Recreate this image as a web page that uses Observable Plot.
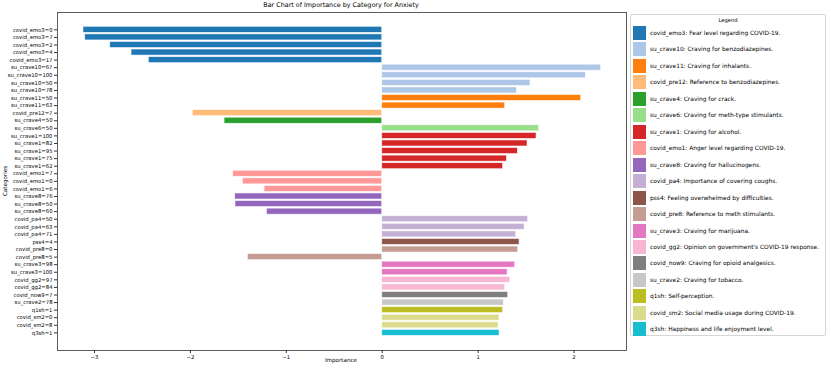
<!DOCTYPE html>
<html><head><meta charset="utf-8">
<script src="https://cdn.jsdelivr.net/npm/d3@7"></script>
<script src="https://cdn.jsdelivr.net/npm/@observablehq/plot@0.6"></script>
<style>
body{margin:0;background:#fff;font-family:"DejaVu Sans",sans-serif;}
#wrap{position:relative;width:831px;height:370px;overflow:hidden;}
#wrap svg{position:absolute;left:0;top:0;}
.abs{position:absolute;white-space:nowrap;color:#000;}
#title{left:341px;top:0.5px;transform:translateX(-50%);font-size:6.4px;}
#xlabel{left:341px;top:357px;transform:translateX(-50%);font-size:5.6px;}
#ylabel{left:5px;top:181px;transform:translate(-50%,-50%) rotate(-90deg);font-size:5.6px;}
#legend{left:630px;top:14px;width:196px;height:322px;border:1px solid #d6d6d6;border-radius:2px;box-sizing:border-box;background:#fff;}
.lt{position:absolute;left:0;width:100%;text-align:center;top:2px;font-size:5.2px;}
.sw{position:absolute;left:1.5px;width:13px;height:14px;}
.tx{position:absolute;left:19px;font-size:5.9px;transform:translateY(-50%);}
</style></head><body><div id="wrap"></div>
<script>
const categories = ["covid_emo3=0","covid_emo3=7","covid_emo3=2","covid_emo3=4","covid_emo3=17",
"su_crave10=67","su_crave10=100","su_crave10=50","su_crave10=78","su_crave11=50","su_crave11=63",
"covid_pre12=7","su_crave4=50","su_crave6=50","su_crave1=100","su_crave1=82","su_crave1=95","su_crave1=75","su_crave1=62",
"covid_emo1=7","covid_emo1=0","covid_emo1=6","su_crave8=76","su_crave8=50","su_crave8=60",
"covid_pa4=50","covid_pa4=63","covid_pa4=71","pss4=4","covid_pre8=0","covid_pre8=5",
"su_crave3=98","su_crave3=100","covid_gg2=97","covid_gg2=84","covid_now9=7","su_crave2=78",
"q1sh=1","covid_sm2=0","covid_sm2=8","q3sh=1"];
const values = [-3.115,-3.097,-2.836,-2.614,-2.434,
2.283,2.123,1.546,1.404,2.075,1.282,
-1.975,-1.644,1.637,1.609,1.515,1.414,1.300,1.261,
-1.554,-1.453,-1.227,-1.533,-1.530,-1.203,
1.522,1.484,1.397,1.432,1.418,-1.401,
1.387,1.307,1.335,1.282,1.314,1.268,
1.261,1.223,1.213,1.223];
const legendKeys = ["covid_emo3","su_crave10","su_crave11","covid_pre12","su_crave4","su_crave6","su_crave1",
"covid_emo1","su_crave8","covid_pa4","pss4","covid_pre8","su_crave3","covid_gg2","covid_now9","su_crave2",
"q1sh","covid_sm2","q3sh"];
const legendDescriptions = ["Fear level regarding COVID-19.","Craving for benzodiazepines.","Craving for inhalants.",
"Reference to benzodiazepines.","Craving for crack.","Craving for meth-type stimulants.","Craving for alcohol.",
"Anger level regarding COVID-19.","Craving for hallucinogens.","Importance of covering coughs.",
"Feeling overwhelmed by difficulties.","Reference to meth stimulants.","Craving for marijuana.",
"Opinion on government's COVID-19 response.","Craving for opioid analgesics.","Craving for tobacco.",
"Self-perception.","Social media usage during COVID-19.","Happiness and life enjoyment level."];
const palette = ["#1f77b4","#aec7e8","#ff7f0e","#ffbb78","#2ca02c","#98df8a","#d62728","#ff9896","#9467bd",
"#c5b0d5","#8c564b","#c49c94","#e377c2","#f7b6d2","#7f7f7f","#c7c7c7","#bcbd22","#dbdb8d","#17becf"];
const xTicks = [-3,-2,-1,0,1,2];

const data = categories.map((c,i)=>({category:c, value:values[i], group:c.split("=")[0]}));
const wrap = document.getElementById("wrap");

const chart = Plot.plot({
  width:831, height:370, marginLeft:57, marginRight:205, marginTop:12, marginBottom:20,
  style:{fontFamily:"DejaVu Sans, sans-serif", fontSize:"5.3px", background:"transparent", color:"#000"},
  x:{domain:[-3.386,2.547]},
  y:{domain:categories, range:[26.3,335.4], paddingInner:0.2, paddingOuter:0, round:false},
  color:{domain:legendKeys, range:palette},
  marks:[
    Plot.barX(data,{x:"value", y:"category", fill:"group", stroke:"#ffffff", strokeWidth:0.7, strokeOpacity:0.8}),
    Plot.axisX({ticks:xTicks, tickSize:3, tickPadding:2, label:null, stroke:"#333",
      tickFormat:d=>d<0?"\u2212"+Math.abs(d):String(d)}),
    Plot.axisY({tickSize:3, tickPadding:2, label:null, stroke:"#333"}),
    Plot.frame({stroke:"#333", strokeWidth:0.8})
  ]
});
wrap.appendChild(chart);

function addDiv(id, cls, text){const d=document.createElement("div");if(id)d.id=id;d.className=cls;d.textContent=text;wrap.appendChild(d);return d;}
addDiv("title","abs","Bar Chart of Importance by Category for Anxiety");
addDiv("xlabel","abs","Importance");
addDiv("ylabel","abs","Categories");
const lg = addDiv("legend","abs","");
const t = document.createElement("div"); t.className="lt"; t.textContent="Legend"; lg.appendChild(t);
legendKeys.forEach((k,i)=>{
  const cy = 32 + i*16.46 - 14;
  const sw = document.createElement("div"); sw.className="sw"; sw.style.background=palette[i]; sw.style.top=(cy-7)+"px"; lg.appendChild(sw);
  const tx = document.createElement("div"); tx.className="tx"; tx.style.top=cy+"px"; tx.textContent=k+": "+legendDescriptions[i]; lg.appendChild(tx);
});
</script></body></html>
